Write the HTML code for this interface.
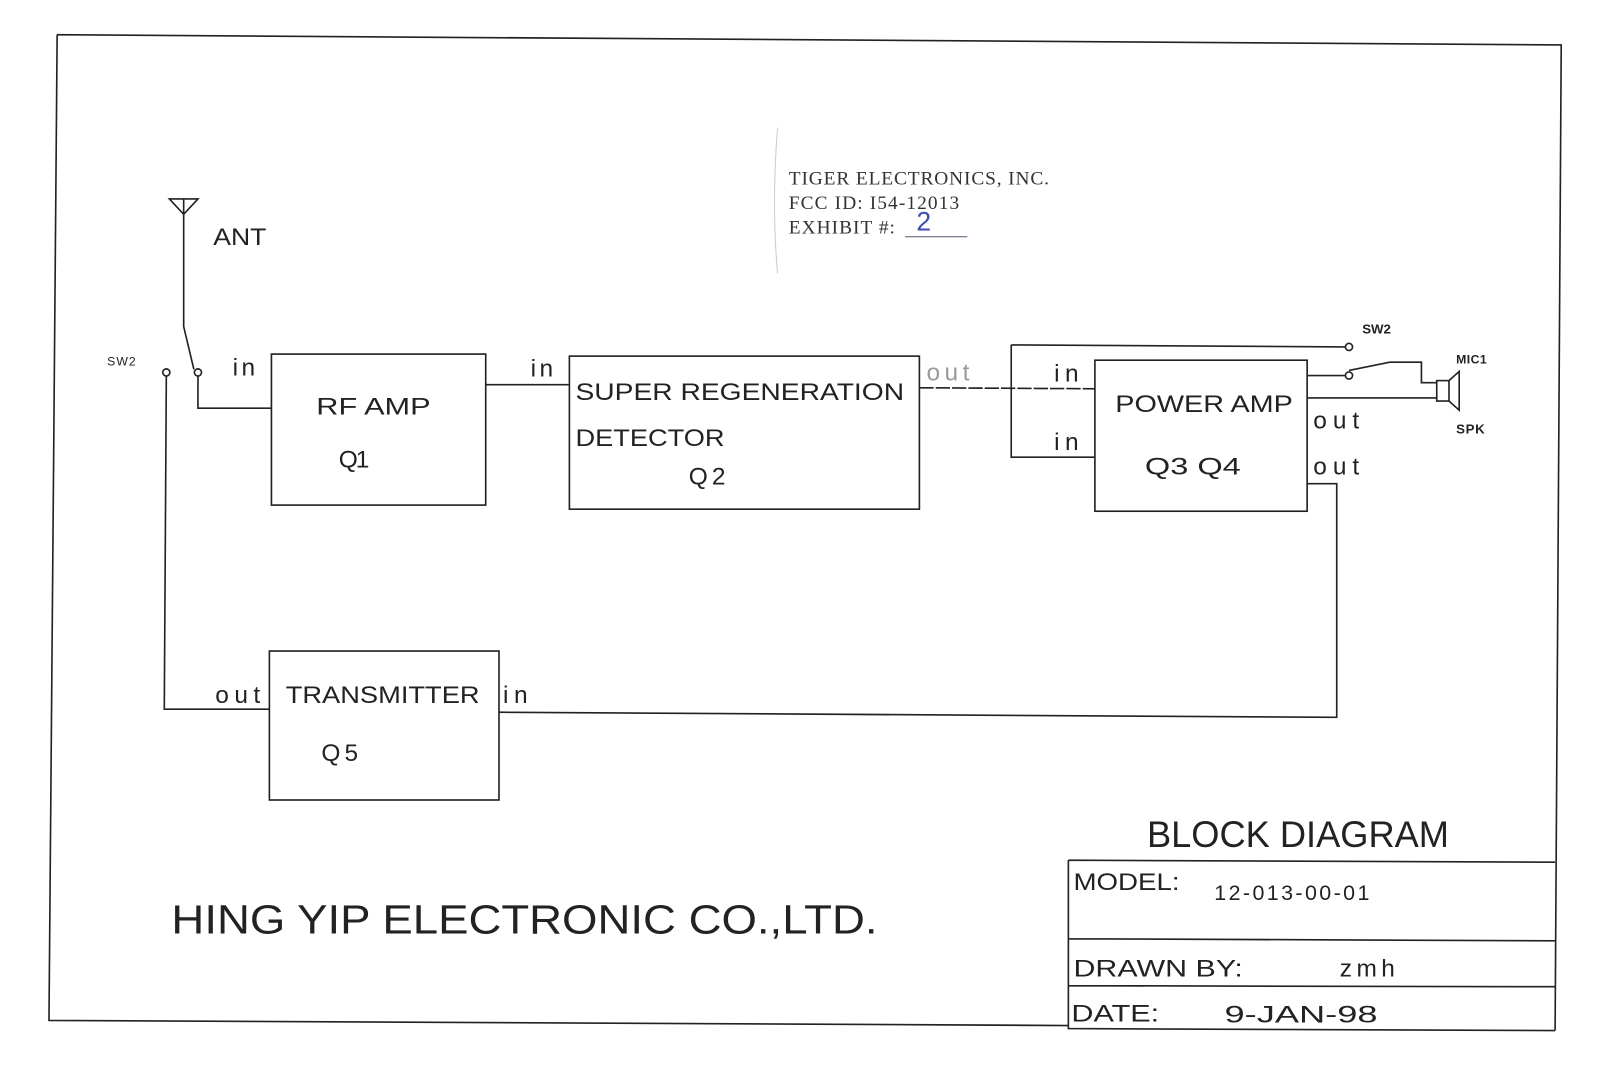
<!DOCTYPE html>
<html><head><meta charset="utf-8"><style>
html,body{margin:0;padding:0;background:#fff;}
svg{display:block;}
text{font-family:"Liberation Sans",sans-serif;fill:#222;}
.s{font-family:"Liberation Serif",serif;fill:#333;}
</style></head><body>
<svg width="1600" height="1065" viewBox="0 0 1568 1043.7" preserveAspectRatio="none" xmlns="http://www.w3.org/2000/svg">
<g fill="none" stroke="#222" stroke-width="1.6">
<path d="M56,34 L1530,44 L1524,1010 M56,34 L48,1000 L1047,1005"/>
<path d="M166,195 L194,195 L180,210 Z M180,195 L180,320 L190,362"/>
<circle cx="163" cy="365" r="3.5"/><circle cx="194" cy="365" r="3.5"/>
<path d="M194,369 L194,400 L266,400 M163,369 L161,695 L264,695"/>
<rect x="266" y="347" width="210" height="148"/>
<path d="M476,377 L558,377"/>
<rect x="558" y="349" width="343" height="150"/>
<path d="M901,380 L1073,381" stroke-dasharray="14,2"/>
<path d="M991,338 L1318,340 M991,338 L991,448 L1073,448"/>
<rect x="1073" y="353" width="208" height="148"/>
<circle cx="1322" cy="340" r="3.5"/><circle cx="1322" cy="368" r="3.5"/>
<path d="M1281,368 L1318,368 M1322,363 L1362,355 L1393,355 L1393,375 L1408,375 M1281,390 L1408,390"/>
<rect x="1408" y="373" width="12" height="20"/>
<path d="M1420,373 L1430,364 L1430,402 L1420,393"/>
<path d="M1281,474 L1310,474 L1310,703 L489,698"/>
<rect x="264" y="638" width="225" height="146"/>
<path d="M762,125 Q756,200 762,268" stroke="#ccc" stroke-width="1"/>
<path d="M887,232 L948,232" stroke="#557" stroke-width="1"/>
<path d="M1047,843 L1524,845 M1047,843 L1047,1008 L1524,1010 M1047,920 L1524,922 M1047,966 L1524,967"/>
</g>
<g font-size="24">
<text x="209" y="240" textLength="52" lengthAdjust="spacingAndGlyphs">ANT</text>
<text x="105" y="358" font-size="12" textLength="28">SW2</text>
<text x="228" y="368" textLength="22">in</text>
<text x="310" y="406" textLength="112" lengthAdjust="spacingAndGlyphs">RF  AMP</text>
<text x="332" y="458" textLength="30">Q1</text>
<text x="520" y="369" textLength="22">in</text>
<text x="564" y="392" textLength="322" lengthAdjust="spacingAndGlyphs">SUPER  REGENERATION</text>
<text x="564" y="437" textLength="146" lengthAdjust="spacingAndGlyphs">DETECTOR</text>
<text x="675" y="475" textLength="36">Q2</text>
<text x="908" y="373" fill="#999" style="fill:#999" textLength="42">out</text>
<text x="1033" y="374" textLength="24">in</text>
<text x="1033" y="441" textLength="24">in</text>
<text x="1093" y="404" textLength="174" lengthAdjust="spacingAndGlyphs">POWER  AMP</text>
<text x="1122" y="465" textLength="94" lengthAdjust="spacingAndGlyphs">Q3  Q4</text>
<text x="1287" y="420" textLength="45">out</text>
<text x="1287" y="465" textLength="45">out</text>
<text x="1335" y="327" font-size="13" font-weight="bold" textLength="28">SW2</text>
<text x="1427" y="356" font-size="12" font-weight="bold" textLength="30">MIC1</text>
<text x="1427" y="425" font-size="13" font-weight="bold" textLength="28">SPK</text>
<text x="211" y="689" textLength="44">out</text>
<text x="280" y="689" textLength="190" lengthAdjust="spacingAndGlyphs">TRANSMITTER</text>
<text x="493" y="689" textLength="24">in</text>
<text x="315" y="746" textLength="36">Q5</text>
<text x="168" y="915" font-size="40" textLength="692" lengthAdjust="spacingAndGlyphs">HING  YIP  ELECTRONIC  CO.,LTD.</text>
<text x="1124" y="830" font-size="36" textLength="296" lengthAdjust="spacingAndGlyphs">BLOCK  DIAGRAM</text>
<text x="1052" y="872" textLength="104" lengthAdjust="spacingAndGlyphs">MODEL:</text>
<text x="1190" y="882" font-size="21" font-family="Liberation Mono,monospace" textLength="152">12-013-00-01</text>
<text x="1052" y="957" textLength="166" lengthAdjust="spacingAndGlyphs">DRAWN  BY:</text>
<text x="1313" y="957" textLength="54">zmh</text>
<text x="1050" y="1001" textLength="86" lengthAdjust="spacingAndGlyphs">DATE:</text>
<text x="1200" y="1002" textLength="150" lengthAdjust="spacingAndGlyphs">9-JAN-98</text>
</g>
<g font-size="19">
<text class="s" x="773" y="181" textLength="255">TIGER ELECTRONICS, INC.</text>
<text class="s" x="773" y="205" textLength="167">FCC ID:  I54-12013</text>
<text class="s" x="773" y="229" textLength="104">EXHIBIT #:</text>
<text x="898" y="226" font-size="26" style="fill:#3a4fb0">2</text>
</g>
</svg>
</body></html>
